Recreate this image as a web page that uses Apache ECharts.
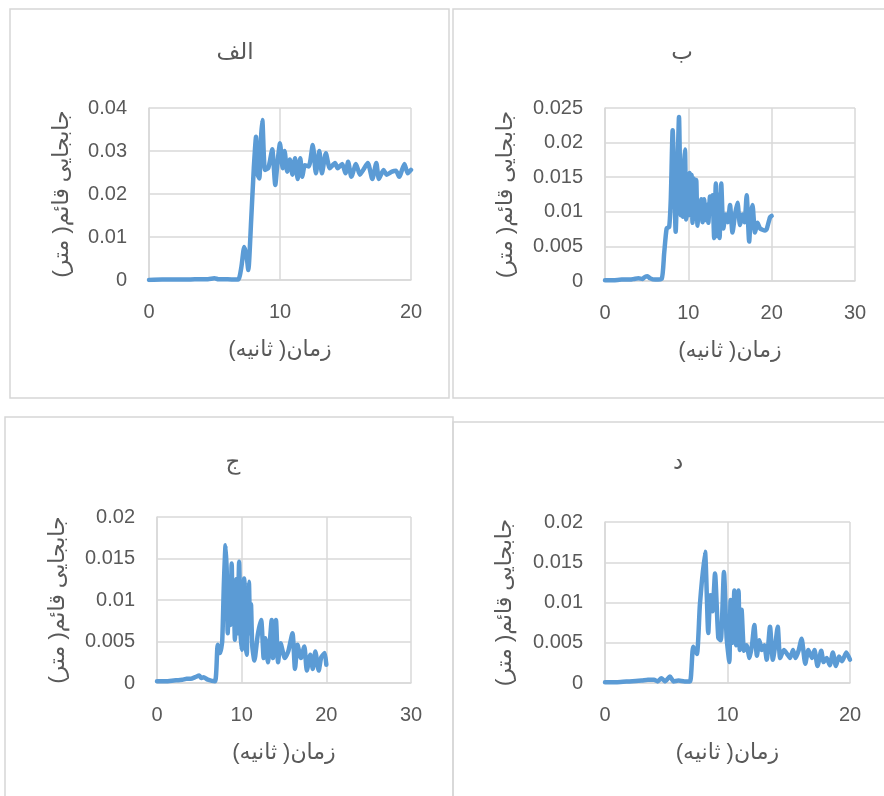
<!DOCTYPE html>
<html>
<head>
<meta charset="utf-8">
<script src="https://cdn.jsdelivr.net/npm/echarts@6/dist/echarts.min.js"></script>
<style>
  html, body { margin: 0; padding: 0; background: #fff; }
  #chart { width: 884px; height: 796px; }
</style>
</head>
<body>
<div id="chart"></div>
<script>
// panel titles and axis names
const titles = ['الف', 'ب', 'ج', 'د'];
const xName = 'زمان( ثانیه)\u200F';
const yName = 'جابجایی قائم( متر)\u200F';

// axis ranges [min, max, interval]
const xRanges = [[0, 20, 10], [0, 30, 10], [0, 30, 10], [0, 20, 10]];
const yRanges = [[0, 0.04, 0.01], [0, 0.025, 0.005], [0, 0.02, 0.005], [0, 0.02, 0.005]];

// [time (s), displacement (m)]
const dataA = [[0,0],[1,0.0001],[2,0.0001],[3,0.0001],[4,0.0002],[4.5,0.0002],[5,0.0004],[5.3,0.0002],[6,0.0002],[6.8,0.0001],[7.05,0.003],[7.27,0.0077],[7.45,0.0055],[7.58,0.0023],[7.8,0.014],[8.0,0.026],[8.17,0.0333],[8.3,0.0245],[8.42,0.0236],[8.55,0.033],[8.65,0.0372],[8.85,0.0256],[9.1,0.026],[9.25,0.028],[9.41,0.0304],[9.64,0.0221],[9.8,0.027],[10.0,0.0318],[10.2,0.026],[10.35,0.030],[10.55,0.0252],[10.75,0.028],[10.95,0.0245],[11.15,0.0283],[11.35,0.0235],[11.55,0.0283],[11.7,0.024],[11.9,0.0267],[12.2,0.0264],[12.5,0.0314],[12.74,0.0248],[13.0,0.030],[13.2,0.0248],[13.5,0.0295],[13.8,0.026],[14.2,0.0272],[14.4,0.026],[14.75,0.027],[15.0,0.0248],[15.2,0.0275],[15.45,0.024],[15.8,0.027],[16.1,0.0245],[16.35,0.0256],[16.7,0.0272],[17.05,0.0235],[17.35,0.0272],[17.55,0.0235],[17.9,0.0256],[18.15,0.0245],[18.55,0.0252],[18.85,0.0254],[19.1,0.024],[19.5,0.027],[19.75,0.0248],[20.0,0.0256]];
const dataB = [[0,0.0001],[1,0.0001],[2,0.0002],[3,0.0002],[3.5,0.0003],[4,0.0004],[4.5,0.0003],[4.8,0.0006],[5.1,0.0007],[5.4,0.0004],[6,0.0002],[6.8,0.0003],[7.1,0.004],[7.4,0.0076],[7.7,0.0078],[7.9,0.012],[8.12,0.0218],[8.3,0.015],[8.48,0.0071],[8.7,0.016],[8.88,0.0237],[9.0,0.016],[9.1,0.0095],[9.25,0.014],[9.35,0.0093],[9.5,0.017],[9.6,0.019],[9.75,0.0089],[9.9,0.0125],[10.0,0.0095],[10.15,0.0156],[10.3,0.0095],[10.4,0.0153],[10.5,0.0084],[10.65,0.0148],[10.8,0.009],[10.95,0.0146],[11.1,0.008],[11.25,0.0115],[11.4,0.0095],[11.55,0.0118],[11.7,0.0085],[11.9,0.0118],[12.05,0.0088],[12.25,0.011],[12.4,0.0084],[12.6,0.0122],[12.75,0.0105],[12.9,0.0124],[13.1,0.0062],[13.3,0.0141],[13.45,0.0065],[13.6,0.0125],[13.75,0.0062],[13.95,0.0141],[14.2,0.0076],[14.5,0.0096],[14.75,0.0085],[15.0,0.011],[15.3,0.007],[15.6,0.0096],[15.9,0.0113],[16.2,0.0081],[16.5,0.0096],[16.75,0.0085],[17.0,0.0124],[17.3,0.0057],[17.5,0.0095],[17.7,0.011],[18.0,0.007],[18.3,0.0084],[18.6,0.0076],[19.2,0.0073],[19.4,0.0075],[19.8,0.0092],[20.0,0.0094]];
const dataC = [[0,0.0002],[1,0.0002],[2,0.0003],[3,0.0004],[3.5,0.0005],[4,0.0005],[4.5,0.0007],[5.0,0.0009],[5.2,0.0006],[5.5,0.0007],[6,0.0004],[6.85,0.0002],[7.17,0.0046],[7.45,0.0036],[7.7,0.005],[7.9,0.012],[8.1,0.0166],[8.25,0.013],[8.35,0.006],[8.5,0.01],[8.65,0.007],[8.82,0.0144],[8.95,0.0075],[9.05,0.011],[9.2,0.0052],[9.35,0.0125],[9.5,0.006],[9.7,0.0146],[9.85,0.0065],[10.0,0.004],[10.15,0.009],[10.3,0.0126],[10.45,0.005],[10.6,0.0034],[10.7,0.009],[10.85,0.0122],[11.0,0.006],[11.1,0.0095],[11.25,0.0045],[11.5,0.0027],[11.9,0.0058],[12.3,0.0076],[12.6,0.003],[12.8,0.0054],[13.1,0.0025],[13.55,0.0076],[13.7,0.003],[14.05,0.0076],[14.3,0.0025],[14.6,0.0048],[15.1,0.003],[15.5,0.0038],[16.0,0.006],[16.3,0.0017],[16.6,0.0046],[17.0,0.003],[17.4,0.0044],[17.7,0.0015],[18.1,0.0034],[18.4,0.0017],[18.7,0.0038],[19.1,0.0015],[19.4,0.0031],[19.8,0.0036],[20.0,0.0022]];
const dataD = [[0,0.0001],[1,0.0001],[2,0.0002],[3,0.0003],[3.5,0.0004],[4,0.0004],[4.3,0.0002],[4.6,0.0006],[4.9,0.0002],[5.3,0.0008],[5.6,0.0002],[6,0.0003],[6.5,0.0002],[6.94,0.0002],[7.2,0.0045],[7.5,0.0036],[7.75,0.0098],[8.16,0.0163],[8.43,0.0062],[8.6,0.0109],[8.78,0.0089],[8.98,0.0136],[9.25,0.0056],[9.45,0.0053],[9.71,0.0138],[9.93,0.0056],[10.15,0.0026],[10.25,0.0103],[10.42,0.005],[10.56,0.0115],[10.7,0.0047],[10.9,0.0115],[11.0,0.0041],[11.15,0.0091],[11.35,0.004],[11.55,0.0047],[11.8,0.0031],[12.0,0.0047],[12.19,0.0072],[12.4,0.0034],[12.6,0.0053],[12.8,0.0041],[13.0,0.0047],[13.2,0.0029],[13.47,0.007],[13.7,0.0029],[13.9,0.0047],[14.1,0.007],[14.3,0.0031],[14.6,0.0041],[14.87,0.0036],[15.1,0.0031],[15.35,0.0041],[15.55,0.0031],[15.8,0.004],[16.05,0.0055],[16.35,0.0024],[16.6,0.0041],[16.9,0.0031],[17.1,0.0041],[17.35,0.0021],[17.65,0.004],[17.85,0.0026],[18.1,0.0031],[18.35,0.0022],[18.6,0.0038],[18.85,0.0021],[19.1,0.0033],[19.35,0.0027],[19.7,0.0038],[20.0,0.0029]];
const allData = [dataA, dataB, dataC, dataD];

// layout
const grids = [
  { left: 149, top: 108, width: 262, height: 172 },
  { left: 605, top: 108, width: 250, height: 173 },
  { left: 157, top: 517, width: 254, height: 166 },
  { left: 605, top: 522, width: 245, height: 161 }
];
const titlePos = [[230, 36], [677, 36], [228, 446], [673, 446]];
const yNameGap = [76, 88, 88, 89];
const panels = [[10, 9, 439, 389], [453, 9, 450, 389], [5, 417, 448, 400], [453, 422, 450, 400]];

const FONT = "'Liberation Sans', 'DejaVu Sans', sans-serif";
const TXT = '#595959';
const GRID_LINE = '#d9d9d9';

const myChart = echarts.init(document.getElementById('chart'));

let option = {
  backgroundColor: '#fff',
  animation: false,
  textStyle: { fontFamily: FONT },
  title: titles.map((t, i) => ({
    text: t,
    left: titlePos[i][0],
    top: titlePos[i][1],
    textAlign: 'center',
    textStyle: { color: TXT, fontSize: 23, fontWeight: 'normal', fontFamily: FONT }
  })),
  graphic: panels.map(p => ({
    type: 'rect',
    silent: true,
    shape: { x: p[0], y: p[1], width: p[2], height: p[3] },
    style: { fill: 'none', stroke: '#d6d6d6', lineWidth: 1.5 }
  })),
  grid: grids,
  xAxis: xRanges.map((r, i) => ({
    type: 'value',
    gridIndex: i,
    min: r[0], max: r[1], interval: r[2],
    name: xName,
    nameLocation: 'middle',
    nameGap: 59,
    nameTextStyle: { color: TXT, fontSize: 22, fontFamily: FONT },
    axisLine: { lineStyle: { color: GRID_LINE, width: 1.5 } },
    axisTick: { show: false },
    axisLabel: { color: TXT, fontSize: 20, margin: 22 },
    splitLine: { show: true, lineStyle: { color: GRID_LINE, width: 1.5 } }
  })),
  yAxis: yRanges.map((r, i) => ({
    type: 'value',
    gridIndex: i,
    min: r[0], max: r[1], interval: r[2],
    name: yName,
    nameLocation: 'middle',
    nameGap: yNameGap[i],
    nameTextStyle: { color: TXT, fontSize: 22, fontFamily: FONT },
    axisLine: { show: true, lineStyle: { color: GRID_LINE, width: 1.5 } },
    axisTick: { show: false },
    axisLabel: { color: TXT, fontSize: 20, margin: 22 },
    splitLine: { show: true, lineStyle: { color: GRID_LINE, width: 1.5 } }
  })),
  series: allData.map((d, i) => ({
    type: 'line',
    xAxisIndex: i,
    yAxisIndex: i,
    data: d,
    showSymbol: false,
    smooth: 0.2,
    lineStyle: { color: '#5b9bd5', width: 4.5, cap: 'round', join: 'round' },
    itemStyle: { color: '#5b9bd5' }
  }))
};

myChart.setOption(option);
window.onresize = myChart.resize;
</script>
</body>
</html>
